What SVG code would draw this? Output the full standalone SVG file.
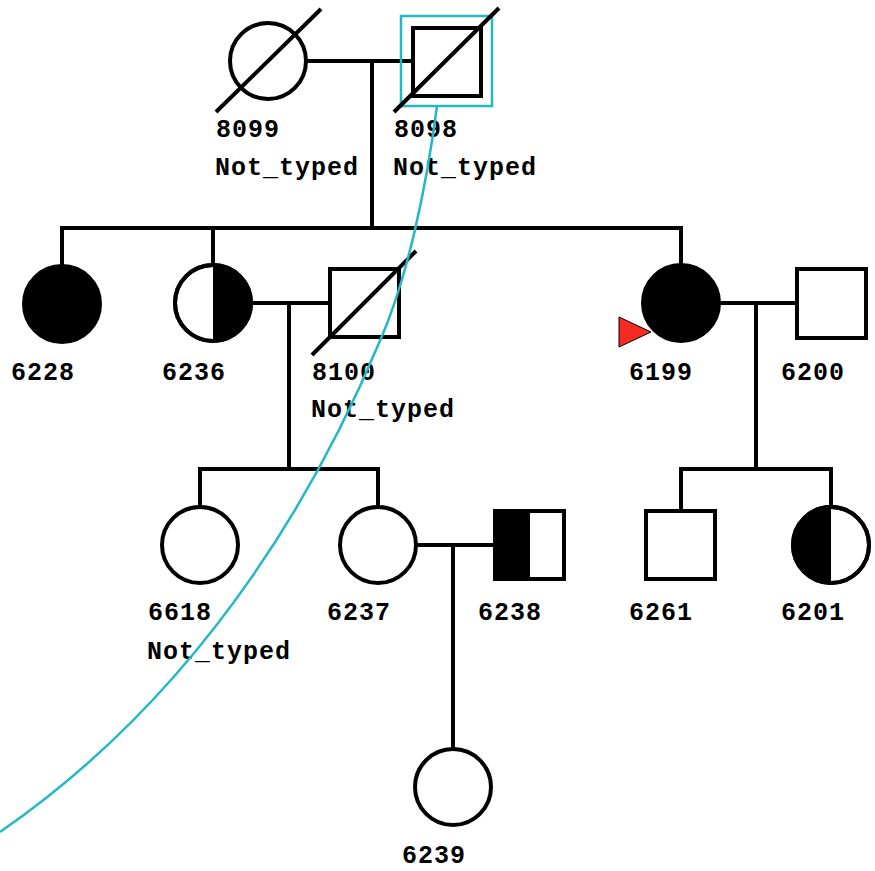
<svg xmlns="http://www.w3.org/2000/svg" width="875" height="871" viewBox="0 0 875 871">
<style>
.ln{stroke:#000;stroke-width:4;fill:none}
.sh{stroke:#000;stroke-width:4;fill:#fff}
.blk{fill:#000;stroke:#000;stroke-width:4}
.half{fill:#000;stroke:none}
.lbl{font-family:"Liberation Mono","Courier New",monospace;font-weight:bold;font-size:25px;letter-spacing:1px;fill:#000}
.hl{stroke:#22b8c6;stroke-width:2.5;fill:none}
</style>
<rect width="875" height="871" fill="#fff"/>
<g id="connectors">
<line class="ln" x1="306" y1="61" x2="413" y2="61"/>
<line class="ln" x1="372" y1="61" x2="372" y2="228"/>
<line class="ln" x1="60" y1="228" x2="683" y2="228"/>
<line class="ln" x1="62" y1="228" x2="62" y2="265"/>
<line class="ln" x1="213" y1="228" x2="213" y2="265"/>
<line class="ln" x1="681" y1="228" x2="681" y2="265"/>
<line class="ln" x1="252" y1="303" x2="330" y2="303"/>
<line class="ln" x1="289" y1="303" x2="289" y2="469"/>
<line class="ln" x1="198" y1="469" x2="380" y2="469"/>
<line class="ln" x1="200" y1="469" x2="200" y2="507"/>
<line class="ln" x1="378" y1="469" x2="378" y2="507"/>
<line class="ln" x1="720" y1="303" x2="797" y2="303"/>
<line class="ln" x1="756" y1="303" x2="756" y2="469"/>
<line class="ln" x1="679" y1="469" x2="833" y2="469"/>
<line class="ln" x1="681" y1="469" x2="681" y2="511"/>
<line class="ln" x1="831" y1="469" x2="831" y2="507"/>
<line class="ln" x1="416" y1="545" x2="494" y2="545"/>
<line class="ln" x1="453" y1="545" x2="453" y2="749"/>
</g>
<g id="n8099">
<circle class="sh" cx="268" cy="61" r="38"/>
<line class="ln" x1="216" y1="112" x2="321" y2="9"/>
<text class="lbl" x="216" y="137">8099</text>
<text class="lbl" x="215" y="175">Not_typed</text>
</g>
<g id="n8098">
<rect x="401" y="16" width="91" height="90" class="hl"/>
<rect class="sh" x="413" y="28" width="68" height="68"/>
<line class="ln" x1="394" y1="112" x2="499" y2="8"/>
<text class="lbl" x="394" y="137">8098</text>
<text class="lbl" x="393" y="175">Not_typed</text>
</g>
<g id="n6228">
<circle class="blk" cx="62" cy="304" r="38"/>
<text class="lbl" x="11" y="380">6228</text>
</g>
<g id="n6236">
<circle class="sh" cx="213" cy="303" r="38"/>
<path class="half" d="M213,265 A38,38 0 0 1 213,341 Z"/>
<circle class="ln" cx="213" cy="303" r="38"/>
<text class="lbl" x="162" y="380">6236</text>
</g>
<g id="n8100">
<rect class="sh" x="330" y="269" width="69" height="68"/>
<line class="ln" x1="312" y1="355" x2="416" y2="251"/>
<text class="lbl" x="312" y="380">8100</text>
<text class="lbl" x="311" y="417">Not_typed</text>
</g>
<g id="n6199">
<circle class="blk" cx="681" cy="303" r="38"/>
<polygon points="619,317 651,332 619,347" fill="#f52a22" stroke="#000" stroke-width="1"/>
<text class="lbl" x="629" y="380">6199</text>
</g>
<g id="n6200">
<rect class="sh" x="797" y="269" width="69" height="69"/>
<text class="lbl" x="781" y="380">6200</text>
</g>
<g id="n6618">
<circle class="sh" cx="200" cy="545" r="38"/>
<text class="lbl" x="148" y="620">6618</text>
<text class="lbl" x="147" y="659">Not_typed</text>
</g>
<g id="n6237">
<circle class="sh" cx="378" cy="545" r="38"/>
<text class="lbl" x="327" y="620">6237</text>
</g>
<g id="n6238">
<rect class="sh" x="495" y="511" width="69" height="68"/>
<rect class="half" x="495" y="511" width="35" height="68"/>
<rect class="ln" x="495" y="511" width="69" height="68"/>
<text class="lbl" x="478" y="620">6238</text>
</g>
<g id="n6261">
<rect class="sh" x="646" y="511" width="69" height="68"/>
<text class="lbl" x="629" y="620">6261</text>
</g>
<g id="n6201">
<circle class="sh" cx="831" cy="545" r="38"/>
<path class="half" d="M831,507 A38,38 0 0 0 831,583 Z"/>
<circle class="ln" cx="831" cy="545" r="38"/>
<text class="lbl" x="781" y="620">6201</text>
</g>
<g id="n6239">
<circle class="sh" cx="453" cy="787" r="38"/>
<text class="lbl" x="402" y="863">6239</text>
</g>
<g id="highlight">
<path class="hl" d="M437,106 C426,190 407,280 379,343 C330,460 220,680 0,832"/>
</g>
</svg>
